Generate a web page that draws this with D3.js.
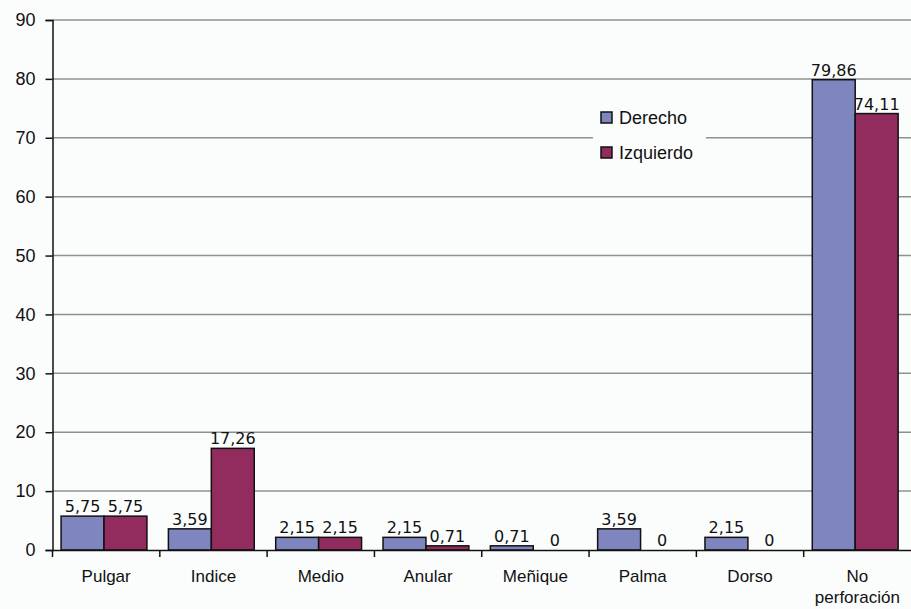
<!DOCTYPE html>
<html>
<head>
<meta charset="utf-8">
<script src="https://d3js.org/d3.v7.min.js"></script>
<style>
  body { margin: 0; background: #fbfdfd; }
  svg { display: block; }
</style>
</head>
<body>
<div id="chart"></div>
<script>
// categories and values
var categories = ["Pulgar", "Indice", "Medio", "Anular", "Meñique", "Palma", "Dorso", "No perforación"];
var derecho = [5.75, 3.59, 2.15, 2.15, 0.71, 3.59, 2.15, 79.86];
var izquierdo = [5.75, 17.26, 2.15, 0.71, 0, 0, 0, 74.11];
var seriesNames = ["Derecho", "Izquierdo"];
var seriesColors = ["#7f86bf", "#922b5e"];
var yTicks = [0, 10, 20, 30, 40, 50, 60, 70, 80, 90];

var W = 911, H = 609;
var mLeft = 52.5, mRight = 911, mTop = 20, mBottom = 550;

var svg = d3.select("#chart").append("svg")
    .attr("width", W).attr("height", H);

var x = d3.scaleBand().domain(categories).range([mLeft, mRight]).paddingInner(0).paddingOuter(0);
var y = d3.scaleLinear().domain([0, 90]).range([mBottom, mTop]);
var x1 = d3.scaleBand().domain(seriesNames).range([0, x.bandwidth()])
    .paddingOuter(0.25).paddingInner(0).align(0.4);

// gridlines
svg.append("g").selectAll("line").data(yTicks.filter(function(d) { return d > 0; }))
  .enter().append("line")
    .attr("x1", mLeft).attr("x2", mRight)
    .attr("y1", function(d) { return y(d); }).attr("y2", function(d) { return y(d); })
    .attr("stroke", "#909090").attr("stroke-width", 1.5);

// bars
var rows = categories.map(function(c, i) {
  return { cat: c, vals: [
    { s: "Derecho", v: derecho[i], c: seriesColors[0] },
    { s: "Izquierdo", v: izquierdo[i], c: seriesColors[1] }
  ] };
});

var grp = svg.append("g").selectAll("g").data(rows).enter().append("g")
    .attr("transform", function(d) { return "translate(" + x(d.cat) + ",0)"; });

grp.selectAll("rect").data(function(d) { return d.vals.filter(function(e) { return e.v > 0; }); })
  .enter().append("rect")
    .attr("x", function(d) { return x1(d.s); })
    .attr("y", function(d) { return y(d.v); })
    .attr("width", x1.bandwidth())
    .attr("height", function(d) { return y(0) - y(d.v); })
    .attr("fill", function(d) { return d.c; })
    .attr("stroke", "#111").attr("stroke-width", 1.5);

grp.selectAll("text").data(function(d) { return d.vals; })
  .enter().append("text")
    .attr("x", function(d) { return x1(d.s) + x1.bandwidth() / 2; })
    .attr("y", function(d) { return y(d.v) - 4; })
    .attr("text-anchor", "middle")
    .attr("font-family", "DejaVu Sans, Verdana, sans-serif")
    .attr("font-size", 16)
    .attr("fill", "#111")
    .text(function(d) { return String(d.v).replace(".", ","); });

// y axis
var yAxis = svg.append("g").attr("transform", "translate(" + mLeft + ",0)")
  .call(d3.axisLeft(y).tickValues(yTicks).tickSize(7).tickPadding(10).tickFormat(d3.format("d")));
yAxis.select(".domain").attr("stroke", "#111").attr("stroke-width", 1.5);
yAxis.selectAll(".tick line").attr("stroke", "#111").attr("stroke-width", 1.5);
yAxis.selectAll("text").attr("font-family", "Liberation Sans, Arial, sans-serif")
  .attr("font-size", 18).attr("fill", "#111");

// x axis
var xAxis = svg.append("g").attr("transform", "translate(0," + mBottom + ")")
  .call(d3.axisBottom(x).tickSize(0).tickPadding(18));
xAxis.select(".domain").attr("stroke", "#111").attr("stroke-width", 1.5);
xAxis.selectAll("text").remove();
xAxis.selectAll(".tick").each(function(d) {
  var t = d3.select(this).append("text")
    .attr("text-anchor", "middle")
    .attr("font-family", "Liberation Sans, Arial, sans-serif")
    .attr("font-size", 17).attr("fill", "#111");
  var parts = d === "No perforación" ? ["No", "perforación"] : [d];
  parts.forEach(function(p, k) {
    t.append("tspan").attr("x", 0).attr("y", 32 + k * 21).text(p);
  });
});
// category boundary ticks
svg.append("g").selectAll("line").data(categories)
  .enter().append("line")
    .attr("x1", function(d) { return x(d); }).attr("x2", function(d) { return x(d); })
    .attr("y1", mBottom).attr("y2", mBottom + 7)
    .attr("stroke", "#111").attr("stroke-width", 1.5);

// legend
var lg = svg.append("g").attr("transform", "translate(593,100)");
lg.append("rect").attr("width", 113).attr("height", 72).attr("fill", "#fbfdfd");
seriesNames.forEach(function(s, i) {
  lg.append("rect").attr("x", 8).attr("y", 12 + i * 35).attr("width", 11).attr("height", 11)
    .attr("fill", seriesColors[i]).attr("stroke", "#111").attr("stroke-width", 1.5);
  lg.append("text").attr("x", 26).attr("y", 24 + i * 35)
    .attr("font-family", "Liberation Sans, Arial, sans-serif")
    .attr("font-size", 18).attr("fill", "#111").text(s);
});
</script>
</body>
</html>
